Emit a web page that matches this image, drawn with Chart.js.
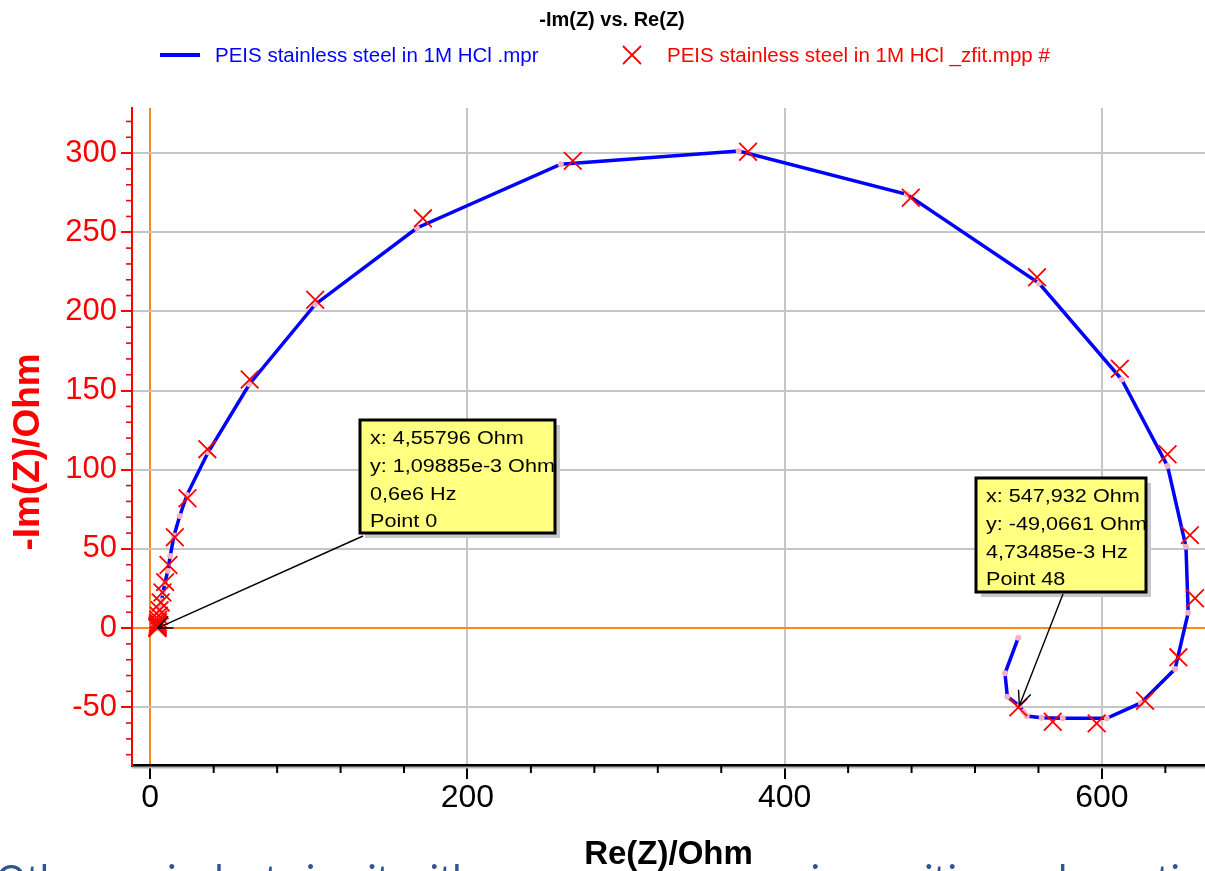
<!DOCTYPE html>
<html><head><meta charset="utf-8">
<script src="https://cdn.jsdelivr.net/npm/chart.js@4.4.1/dist/chart.umd.min.js"></script>
<style>html,body{margin:0;padding:0;background:#fff;overflow:hidden}</style>
</head><body>
<canvas id="c" width="1205" height="871"></canvas>
<script>
// ---- data ----
const measuredRe = [4.558,4.56,4.56,4.57,4.57,4.58,4.59,4.6,4.62,4.64,4.67,4.71,4.76,4.82,4.9,5.0,5.13,5.3,5.55,5.9,6.4,7.1,8.0,9.3,11.0,12.6,15.0,18.6,23.1,36.5,62.5,104.0,168.1,258.9,371.0,477.0,560.4,612.5,641.4,653.0,654.4,646.1,624.6,603.0,575.3,562.0,552.6,550.5,547.932,540.4,538.9,547.3];
const measuredIm = [0.0011,0.04,0.08,0.13,0.19,0.27,0.37,0.5,0.67,0.88,1.15,1.5,1.95,2.5,3.2,4.1,5.2,6.6,8.4,10.7,13.6,17.4,22.2,28.3,36.2,45.5,58.5,70.8,84.0,111.0,154.0,204.4,252.7,293.0,301.3,274.0,217.8,157.0,102.3,51.3,9.7,-25.9,-47.3,-57.0,-57.0,-56.6,-55.6,-52.8,-49.0661,-43.4,-28.6,-6.1];
const fitRe = [4.56,4.57,4.6,4.66,4.75,4.9,5.1,5.4,5.9,6.6,7.7,9.4,11.5,15.5,23.5,36.0,62.7,104.0,171.9,266.4,376.9,479.5,559.1,611.3,641.4,655.5,658.7,648.2,627.2,596.7,569.0,547.3];
const fitIm = [0.05,0.3,0.7,1.3,2.2,3.5,5.3,7.8,11.3,16.2,22.5,29.0,39.8,57.4,82.0,113.0,157.0,207.4,258.8,295.1,300.9,271.8,221.6,163.8,109.8,58.7,18.8,-18.5,-45.9,-60.2,-59.2,-50.1];
const xTicks = [0,200,400,600];
const yTicks = [-50,0,50,100,150,200,250,300];
const xMinorStep = 40;
const yMinorStep = 10;
const chartTitle = '-Im(Z) vs. Re(Z)';
const seriesNames = ['PEIS stainless steel in 1M HCl .mpr', 'PEIS stainless steel in 1M HCl _zfit.mpp #'];
const xTitle = 'Re(Z)/Ohm';
const yTitle = '-Im(Z)/Ohm';
const callout1 = ['x: 4,55796 Ohm', 'y: 1,09885e-3 Ohm', '0,6e6 Hz', 'Point 0'];
const callout2 = ['x: 547,932 Ohm', 'y: -49,0661 Ohm', '4,73485e-3 Hz', 'Point 48'];
const callout1Index = 0;
const callout2Index = 48;
const bottomText = 'Other equivalent circuit with experimental behavior positive and negative';

const FONT = "'Liberation Sans', Arial, sans-serif";
const ORANGE = '#ff8a1c';
const GRID = '#c6c6c6';

const measured = measuredRe.map((x, i) => ({x, y: measuredIm[i]}));
const fit = fitRe.map((x, i) => ({x, y: fitIm[i]}));

function line(ctx, x1, y1, x2, y2) { ctx.beginPath(); ctx.moveTo(x1, y1); ctx.lineTo(x2, y2); ctx.stroke(); }

function drawCallout(ctx, box, lines, tip, from) {
  ctx.save();
  ctx.fillStyle = '#c8c8c8';
  ctx.fillRect(box.x + 5, box.y + 5, box.w, box.h);
  ctx.fillStyle = '#ffff80';
  ctx.fillRect(box.x, box.y, box.w, box.h);
  ctx.save();
  ctx.beginPath(); ctx.rect(box.x, box.y, box.w - 1, box.h); ctx.clip();
  ctx.fillStyle = '#000';
  ctx.font = '18px ' + FONT;
  ctx.textBaseline = 'alphabetic';
  lines.forEach((t, i) => {
    ctx.save();
    ctx.translate(box.x + 10, box.y + 24 + i * 27.8);
    ctx.scale(1.2, 1);
    ctx.fillText(t, 0, 0);
    ctx.restore();
  });
  ctx.restore();
  ctx.strokeStyle = '#000'; ctx.lineWidth = 3;
  ctx.strokeRect(box.x, box.y, box.w, box.h);
  ctx.lineWidth = 1.4;
  line(ctx, from.x, from.y, tip.x, tip.y);
  const a = Math.atan2(tip.y - from.y, tip.x - from.x);
  const L = 16, sp = 0.42;
  line(ctx, tip.x, tip.y, tip.x - L * Math.cos(a - sp), tip.y - L * Math.sin(a - sp));
  line(ctx, tip.x, tip.y, tip.x - L * Math.cos(a + sp), tip.y - L * Math.sin(a + sp));
  ctx.restore();
}

const decor = {
  id: 'decor',
  beforeDraw(chart) {
    const ctx = chart.ctx;
    ctx.save();
    ctx.fillStyle = '#2f5597';
    ctx.font = "38px Lato, 'Open Sans', sans-serif";
    ctx.textBaseline = 'alphabetic';
    ctx.fillText(bottomText, -4, 893);
    ctx.fillStyle = '#fff';
    ctx.fillRect(525, 830, 237, 41);
    ctx.restore();
  },
  afterDraw(chart) {
    const ctx = chart.ctx;
    const xs = chart.scales.x, ys = chart.scales.y;
    const ca = chart.chartArea;
    ctx.save();
    ctx.strokeStyle = '#b4b4b4'; ctx.lineWidth = 2;
    line(ctx, ca.left, ca.bottom + 2.5, ca.right, ca.bottom + 2.5);
    ctx.strokeStyle = '#000'; ctx.lineWidth = 2;
    for (let v = xMinorStep; v <= xs.max; v += xMinorStep) {
      if (xTicks.includes(v)) continue;
      const px = xs.getPixelForValue(v);
      line(ctx, px, ca.bottom, px, ca.bottom + 8);
    }
    ctx.strokeStyle = '#ff0000'; ctx.lineWidth = 1.6;
    for (let v = Math.ceil(ys.min / yMinorStep) * yMinorStep; v <= ys.max; v += yMinorStep) {
      if (yTicks.includes(v)) continue;
      const py = ys.getPixelForValue(v);
      line(ctx, ca.left - 6, py, ca.left, py);
    }
    ctx.fillStyle = '#000';
    ctx.font = 'bold 20px ' + FONT;
    ctx.textAlign = 'center'; ctx.textBaseline = 'alphabetic';
    ctx.fillText(chartTitle, 612, 26);
    ctx.textAlign = 'left';
    ctx.strokeStyle = '#0000ff'; ctx.lineWidth = 4;
    line(ctx, 160, 55, 200, 55);
    ctx.fillStyle = '#0000ff';
    ctx.font = '20.5px ' + FONT;
    ctx.fillText(seriesNames[0], 215, 62);
    ctx.strokeStyle = '#ff0000'; ctx.lineWidth = 1.8;
    line(ctx, 623, 46, 641, 64); line(ctx, 641, 46, 623, 64);
    ctx.fillStyle = '#ff0000';
    ctx.fillText(seriesNames[1], 667, 62);
    const p0 = measured[callout1Index], p48 = measured[callout2Index];
    drawCallout(ctx, {x: 360, y: 420, w: 195, h: 113}, callout1,
      {x: xs.getPixelForValue(p0.x), y: ys.getPixelForValue(p0.y)}, {x: 363, y: 536});
    drawCallout(ctx, {x: 976, y: 478, w: 170, h: 114}, callout2,
      {x: xs.getPixelForValue(p48.x), y: ys.getPixelForValue(p48.y)}, {x: 1063, y: 594});
    ctx.restore();
  }
};

new Chart(document.getElementById('c'), {
  type: 'scatter',
  data: {
    datasets: [
      {
        label: seriesNames[0], data: measured, showLine: true,
        borderColor: '#0000ff', borderWidth: 3.5, tension: 0,
        pointRadius: 3, pointBackgroundColor: '#f6b0bf', pointBorderWidth: 0, pointBorderColor: '#f6b0bf',
        order: 2
      },
      {
        label: seriesNames[1], data: fit, showLine: false,
        pointStyle: 'crossRot', pointRadius: 12.5, borderColor: '#ff0000', borderWidth: 1.8,
        backgroundColor: '#ff0000', order: 1
      }
    ]
  },
  options: {
    responsive: false, animation: false, devicePixelRatio: 1,
    layout: {autoPadding: false, padding: {top: 108, right: 0, bottom: 0, left: 0}},
    plugins: {legend: {display: false}, title: {display: false}, tooltip: {enabled: false}},
    scales: {
      x: {
        type: 'linear', position: 'bottom', min: -11.5, max: 665,
        afterBuildTicks: s => { s.ticks = xTicks.map(v => ({value: v})); },
        afterFit: s => { s.height = 106; s.paddingLeft = 0; s.paddingRight = 0; },
        border: {color: '#000', width: 3},
        grid: {
          color: c => (c.tick && c.tick.value === 0) ? ORANGE : GRID,
          lineWidth: 2, tickColor: '#000', tickLength: 14, tickWidth: 2
        },
        ticks: {color: '#000', font: {family: FONT, size: 32}, padding: 0, maxRotation: 0, autoSkip: false,
          callback: v => String(v)},
        title: {display: true, text: xTitle, color: '#000', font: {family: FONT, size: 33, weight: 'bold'},
          padding: {top: 0, bottom: -4}}
      },
      y: {
        type: 'linear', position: 'left', min: -86.5, max: 328.5,
        afterBuildTicks: s => { s.ticks = yTicks.map(v => ({value: v})); },
        afterFit: s => { s.width = 132; s.paddingTop = 0; s.paddingBottom = 0; },
        border: {color: '#ff0000', width: 2},
        grid: {
          color: c => (c.tick && c.tick.value === 0) ? ORANGE : GRID,
          lineWidth: 2, tickColor: '#ff0000', tickLength: 11, tickWidth: 2
        },
        ticks: {color: '#ff0000', font: {family: FONT, size: 31}, padding: 4, callback: v => String(v)},
        title: {display: true, text: yTitle + '   ', color: '#ff0000', font: {family: FONT, size: 37, weight: 'bold'},
          padding: {top: 7, bottom: 0}}
      }
    }
  },
  plugins: [decor]
});
</script>
</body></html>
